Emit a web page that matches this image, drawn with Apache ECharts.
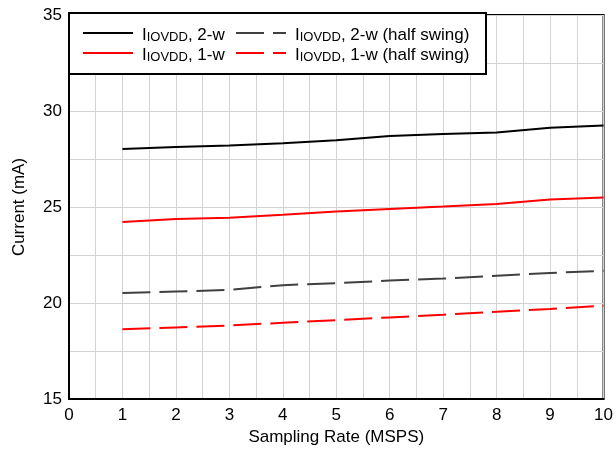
<!DOCTYPE html>
<html>
<head>
<meta charset="utf-8">
<script src="https://cdn.jsdelivr.net/npm/echarts@6/dist/echarts.min.js"></script>
<style>html,body{margin:0;padding:0;background:#fff;}#c{width:616px;height:451px;}</style>
</head>
<body>
<div id="c"></div>
<script>
var sampleRates = [1, 2, 3, 4, 5, 6, 7, 8, 9, 10];
var iovdd2w = [28.02, 28.12, 28.2, 28.32, 28.48, 28.7, 28.8, 28.88, 29.13, 29.25];
var iovdd1w = [24.22, 24.38, 24.44, 24.6, 24.77, 24.9, 25.02, 25.16, 25.39, 25.5];
var iovdd2wHalf = [20.52, 20.6, 20.68, 20.93, 21.03, 21.17, 21.27, 21.42, 21.56, 21.68];
var iovdd1wHalf = [18.63, 18.73, 18.83, 18.97, 19.11, 19.25, 19.39, 19.55, 19.69, 19.86];
var seriesNames = ['2-w', '1-w', '2-w (half swing)', '1-w (half swing)'];
var xTitle = 'Sampling Rate (MSPS)';
var yTitle = 'Current (mA)';

function pairs(arr) { return sampleRates.map(function (x, i) { return [x, arr[i]]; }); }

var FONT = 'Liberation Sans, Arial, sans-serif';
var rich = {
  f: { fontSize: 17, fontFamily: FONT, color: '#000', lineHeight: 17, verticalAlign: 'bottom', padding: [0, 0, 0, 4] },
  m: { fontSize: 17, fontFamily: FONT, color: '#000', lineHeight: 17, verticalAlign: 'bottom' },
  s: { fontSize: 13, fontFamily: FONT, color: '#000', lineHeight: 6, verticalAlign: 'bottom' }
};
function fmt(name) { return '{f|I}{s|IOVDD}{m|, ' + name + '}'; }

var chart = echarts.init(document.getElementById('c'), null, { renderer: 'canvas' });
var legendCommon = {
  orient: 'vertical', itemWidth: 50, itemHeight: 14, itemGap: 3, padding: 0, z: 60,
  textStyle: { rich: rich, fontSize: 17, fontFamily: FONT, padding: [5, 0, 0, 0] },
  formatter: fmt, selectedMode: false, itemStyle: { opacity: 0 }
};
chart.setOption({
  animation: false,
  backgroundColor: '#fff',
  grid: { left: 69, right: 9, top: 15, bottom: 52, show: true, borderColor: '#000', borderWidth: 2, backgroundColor: 'transparent' },
  graphic: [{ type: 'rect', z: 50, shape: { x: 69, y: 13, width: 417, height: 61 }, style: { fill: '#fff', stroke: '#000', lineWidth: 2 } }],
  legend: [
    Object.assign({ left: 82, top: 27, data: [seriesNames[0], seriesNames[1]] }, legendCommon),
    Object.assign({ left: 235, top: 27, data: [seriesNames[2], seriesNames[3]] }, legendCommon)
  ],
  xAxis: {
    type: 'value', min: 0, max: 10, interval: 1,
    name: xTitle, nameLocation: 'middle', nameGap: 28,
    nameTextStyle: { fontSize: 17, fontFamily: FONT, color: '#000' },
    axisLine: { show: true, lineStyle: { color: '#000', width: 2 } },
    axisTick: { show: false },
    axisLabel: { fontSize: 17, fontFamily: FONT, color: '#000', margin: 8 },
    splitLine: { show: true, lineStyle: { color: '#d3d3d3', width: 1 } },
    minorTick: { show: false, splitNumber: 2 },
    minorSplitLine: { show: true, lineStyle: { color: '#d3d3d3', width: 1 } }
  },
  yAxis: {
    type: 'value', min: 15, max: 35, interval: 5,
    name: yTitle, nameLocation: 'middle', nameGap: 41,
    nameTextStyle: { fontSize: 17, fontFamily: FONT, color: '#000' },
    axisLine: { show: true, lineStyle: { color: '#000', width: 2 } },
    axisTick: { show: false },
    axisLabel: { fontSize: 17, fontFamily: FONT, color: '#000', margin: 7 },
    splitLine: { show: true, lineStyle: { color: '#d3d3d3', width: 1 } },
    minorTick: { show: false, splitNumber: 2 },
    minorSplitLine: { show: true, lineStyle: { color: '#d3d3d3', width: 1 } }
  },
  series: [
    { name: seriesNames[0], type: 'line', data: pairs(iovdd2w), symbol: 'none', color: '#000', lineStyle: { color: '#000', width: 2 } },
    { name: seriesNames[1], type: 'line', data: pairs(iovdd1w), symbol: 'none', color: '#ff0000', lineStyle: { color: '#ff0000', width: 2 } },
    { name: seriesNames[2], type: 'line', data: pairs(iovdd2wHalf), symbol: 'none', color: '#404040', lineStyle: { color: '#404040', width: 2, type: [28, 9] } },
    { name: seriesNames[3], type: 'line', data: pairs(iovdd1wHalf), symbol: 'none', color: '#ff0000', lineStyle: { color: '#ff0000', width: 2, type: [28, 9] } }
  ]
});
</script>
</body>
</html>
